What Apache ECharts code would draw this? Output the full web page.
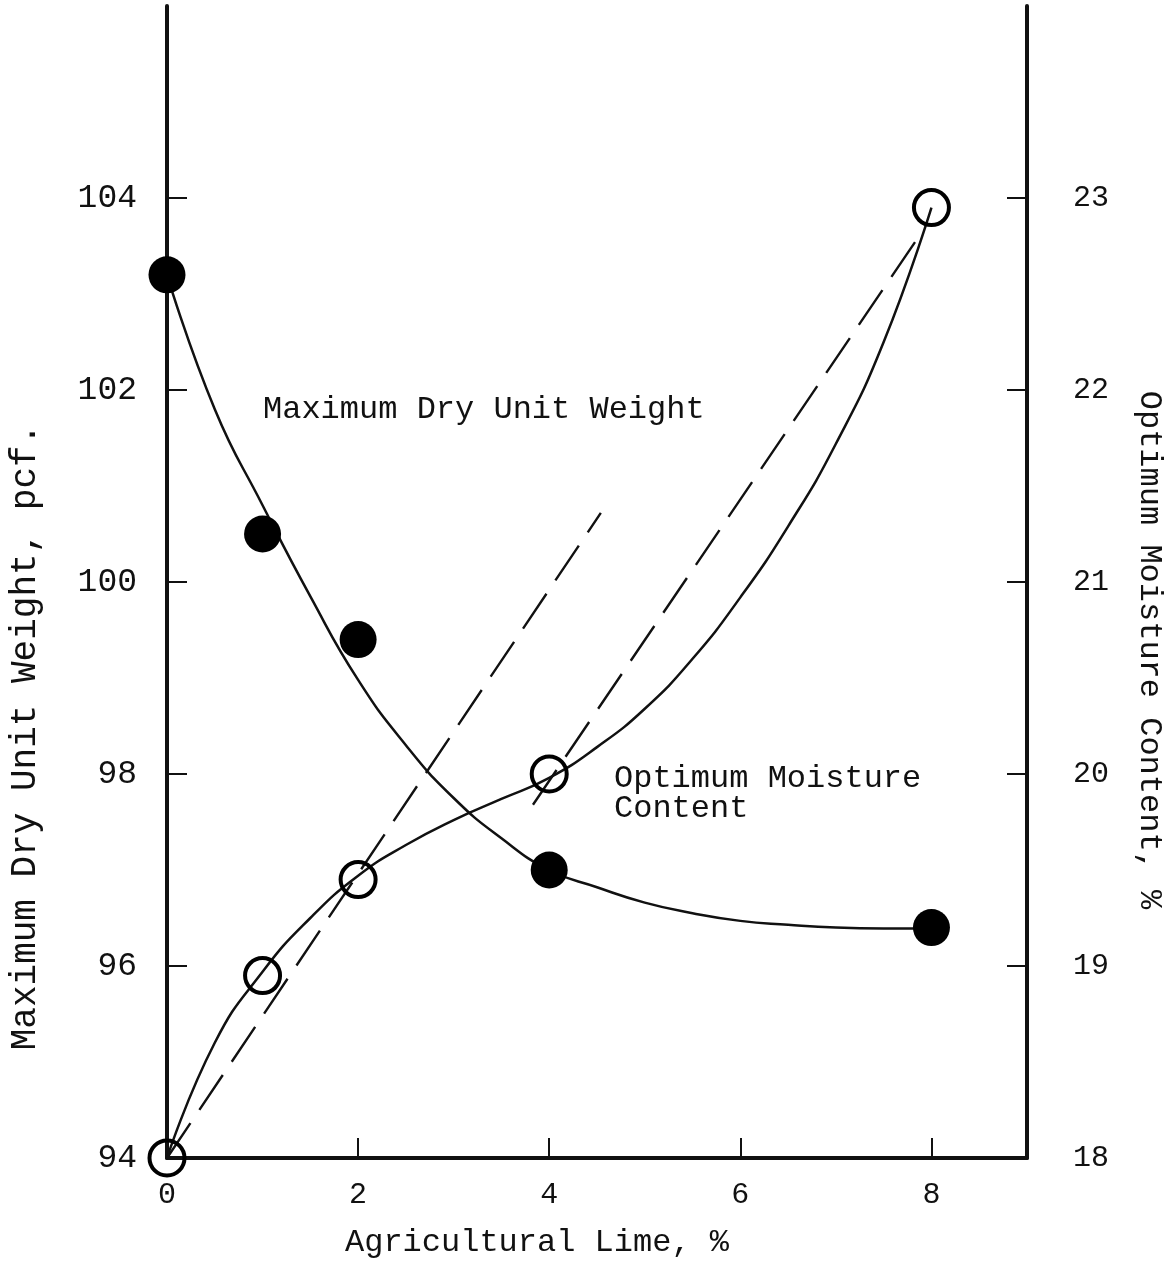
<!DOCTYPE html>
<html>
<head>
<meta charset="utf-8">
<title>Agricultural Lime – Compaction Results</title>
<script src="https://cdn.jsdelivr.net/npm/echarts@6/dist/echarts.min.js"></script>
<style>
  html, body { margin: 0; padding: 0; background: #fff; }
  #chart { width: 1171px; height: 1262px; }
</style>
</head>
<body>
<div id="chart"></div>
<script>
// Lime content tested (%)
const limePct = [0, 1, 2, 4, 8];
// Measured maximum dry unit weight (pcf) – left axis
const dryUnitWeight = [103.2, 100.5, 99.4, 97.0, 96.4];
// Measured optimum moisture content (%) – right axis
const moistureContent = [18.0, 18.95, 19.45, 20.0, 22.95];

// Hand-faired curves, read every 0.5 % lime
const curveLime = [0, 0.5, 1, 1.5, 2, 2.5, 3, 3.5, 4, 4.5, 5, 5.5, 6, 6.5, 7, 7.5, 8];
const weightCurveVals = [103.2, 101.8, 100.8, 99.85, 98.98, 98.3, 97.75, 97.33, 97.0,
  96.82, 96.66, 96.55, 96.47, 96.43, 96.4, 96.39, 96.39];
const moistureCurveVals = [18.0, 18.6, 18.97, 19.25, 19.47, 19.63, 19.76, 19.87, 19.98,
  20.14, 20.34, 20.6, 20.92, 21.29, 21.72, 22.25, 22.95];

// Straight dashed guide lines (moisture scale)
const guideLow = [[0, 18.0], [4.54, 21.36]];
const guideHigh = [[3.83, 19.84], [7.91, 22.83]];

// Axis tick values
const limeTicks = [0, 2, 4, 6, 8];
const weightTicks = [94, 96, 98, 100, 102, 104];
const moistureTicks = [18, 19, 20, 21, 22, 23];

const FONT = "'Liberation Mono', 'DejaVu Sans Mono', monospace";
const INK = '#111';

const pair = (xs, ys) => xs.map((x, i) => [x, ys[i]]);

const chart = echarts.init(document.getElementById('chart'));

const axisLineStyle = { color: INK, width: 4 };
const tickStyle = { color: INK, width: 2 };

function textEl(text, x, y, size, rotation, align) {
  return {
    type: 'text',
    x: x, y: y,
    rotation: rotation || 0,
    silent: true,
    style: {
      text: text,
      fontFamily: FONT,
      fontSize: size,
      fill: INK,
      align: align || 'center',
      textAlign: align || 'center',
      verticalAlign: 'middle',
      textVerticalAlign: 'middle'
    }
  };
}

chart.setOption({
  animation: false,
  backgroundColor: '#fff',
  grid: {
    left: 167, right: 144, top: 6, bottom: 104,
    containLabel: false,
    outerBoundsMode: 'none'
  },
  xAxis: {
    type: 'value',
    min: 0, max: 9,
    axisLine: { show: true, onZero: false, lineStyle: axisLineStyle },
    axisTick: { show: true, inside: true, length: 20, lineStyle: tickStyle, customValues: limeTicks },
    axisLabel: {
      customValues: limeTicks, margin: 22,
      fontFamily: FONT, fontSize: 30, color: INK
    },
    splitLine: { show: false }
  },
  yAxis: [
    {
      type: 'value', position: 'left',
      min: 94, max: 106,
      axisLine: { show: true, onZero: false, lineStyle: axisLineStyle },
      axisTick: { show: true, inside: true, length: 20, lineStyle: tickStyle, customValues: weightTicks },
      axisLabel: {
        customValues: weightTicks, margin: 30,
        fontFamily: FONT, fontSize: 33, color: INK
      },
      splitLine: { show: false }
    },
    {
      type: 'value', position: 'right',
      min: 18, max: 24,
      axisLine: { show: true, onZero: false, lineStyle: axisLineStyle },
      axisTick: { show: true, inside: true, length: 20, lineStyle: tickStyle, customValues: moistureTicks },
      axisLabel: {
        customValues: moistureTicks, margin: 46,
        fontFamily: FONT, fontSize: 30, color: INK
      },
      splitLine: { show: false }
    }
  ],
  series: [
    {
      name: 'Guide (low)', type: 'line', yAxisIndex: 1,
      data: guideLow, showSymbol: false, symbol: 'none',
      lineStyle: { color: INK, width: 2.4, type: [42, 16] }, z: 2
    },
    {
      name: 'Guide (high)', type: 'line', yAxisIndex: 1,
      data: guideHigh, showSymbol: false, symbol: 'none',
      lineStyle: { color: INK, width: 2.4, type: [42, 16] }, z: 2
    },
    {
      name: 'Unit weight curve', type: 'line', yAxisIndex: 0,
      data: pair(curveLime, weightCurveVals), smooth: 0.5,
      showSymbol: false, symbol: 'none',
      lineStyle: { color: INK, width: 2.5 }, z: 3
    },
    {
      name: 'Moisture curve', type: 'line', yAxisIndex: 1,
      data: pair(curveLime, moistureCurveVals), smooth: 0.5,
      showSymbol: false, symbol: 'none',
      lineStyle: { color: INK, width: 2.5 }, z: 3
    },
    {
      name: 'Maximum Dry Unit Weight', type: 'scatter', yAxisIndex: 0,
      data: pair(limePct, dryUnitWeight),
      symbol: 'circle', symbolSize: 37,
      itemStyle: { color: '#000', opacity: 1 }, z: 5
    },
    {
      name: 'Optimum Moisture Content', type: 'scatter', yAxisIndex: 1,
      data: pair(limePct, moistureContent),
      symbol: 'circle', symbolSize: 35,
      itemStyle: { color: 'rgba(0,0,0,0)', borderColor: '#000', borderWidth: 4, opacity: 1 }, z: 5
    }
  ],
  graphic: [
    textEl('Maximum Dry Unit Weight', 263, 410, 32, 0, 'left'),
    {
      type: 'text', x: 614, y: 764, silent: true,
      style: {
        text: 'Optimum Moisture\nContent',
        fontFamily: FONT, fontSize: 32, lineHeight: 30, fill: INK,
        align: 'left', textAlign: 'left', verticalAlign: 'top', textVerticalAlign: 'top'
      }
    },
    textEl('Agricultural Lime, %', 537, 1243, 32, 0, 'center'),
    textEl('Maximum Dry Unit Weight, pcf.', 25, 737, 36, Math.PI / 2, 'center'),
    textEl('Optimum Moisture Content, %', 1149, 650, 32, -Math.PI / 2, 'center')
  ]
});
</script>
</body>
</html>
